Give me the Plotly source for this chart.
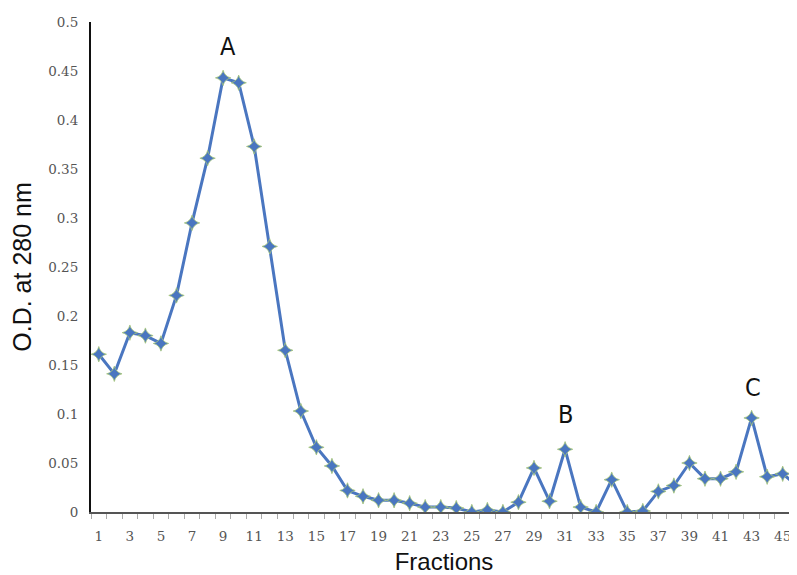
import plotly.graph_objects as go

fractions = list(range(1, 47))
od280 = [0.161, 0.141, 0.183, 0.180, 0.172, 0.221, 0.295, 0.361, 0.443, 0.438,
         0.373, 0.271, 0.165, 0.103, 0.066, 0.047, 0.022, 0.016, 0.012, 0.012,
         0.009, 0.005, 0.005, 0.004, 0.000, 0.002, 0.000, 0.010, 0.045, 0.011,
         0.064, 0.005, 0.000, 0.033, 0.000, 0.001, 0.021, 0.027, 0.050, 0.034,
         0.034, 0.041, 0.096, 0.036, 0.039, 0.026]
ytick_vals = [0, 0.05, 0.1, 0.15, 0.2, 0.25, 0.3, 0.35, 0.4, 0.45, 0.5]
ytick_text = ["0", "0.05", "0.1", "0.15", "0.2", "0.25", "0.3", "0.35", "0.4", "0.45", "0.5"]
xtick_vals = list(range(1, 46, 2))
peak_labels = ["A", "B", "C"]
peak_x = [9.3, 31.05, 43.07]
peak_y = [0.4755, 0.0999, 0.1274]

fig = go.Figure()
fig.add_trace(go.Scatter(
    x=fractions, y=od280, mode="lines+markers",
    line=dict(color="#4a76c0", width=3),
    marker=dict(symbol="star-diamond", size=11, color="#4a76c0",
                line=dict(color="#a8c878", width=0.8)),
    showlegend=False,
))
for t, x, y in zip(peak_labels, peak_x, peak_y):
    fig.add_annotation(x=x, y=y, text=t, showarrow=False,
                       font=dict(family="DejaVu Sans Condensed, Liberation Sans Narrow, sans-serif",
                                 size=25, color="#111"))

fig.update_layout(
    width=789, height=567,
    margin=dict(l=83, r=0, t=14, b=63),
    paper_bgcolor="white", plot_bgcolor="white",
    xaxis=dict(
        range=[0.5, 45.92], tickmode="array", tickvals=xtick_vals,
        ticktext=[str(v) for v in xtick_vals],
        ticks="outside", ticklen=0, ticklabelstandoff=11,
        showgrid=False, zeroline=False,
        showline=True, linecolor="#555", linewidth=2,
        tickfont=dict(family="DejaVu Serif, serif", size=13.5, color="#555"),
        title=dict(text="Fractions", font=dict(family="Liberation Sans, Arial", size=24, color="#111"),
                   standoff=13),
        minor=dict(tick0=0.5, dtick=1, ticks="outside", ticklen=5,
                   tickcolor="#aaa", tickwidth=1, showgrid=False),
    ),
    yaxis=dict(
        range=[0, 0.5], tickmode="array", tickvals=ytick_vals, ticktext=ytick_text,
        ticks="outside", ticklen=0, ticklabelstandoff=8, showgrid=False, zeroline=False,
        showline=True, linecolor="#111", linewidth=2,
        tickfont=dict(family="DejaVu Serif, serif", size=13.5, color="#555"),
        title=dict(text="O.D. at 280 nm", font=dict(family="Liberation Sans, Arial", size=25, color="#111"),
                   standoff=15),
    ),
)

fig.write_html("out.html")
